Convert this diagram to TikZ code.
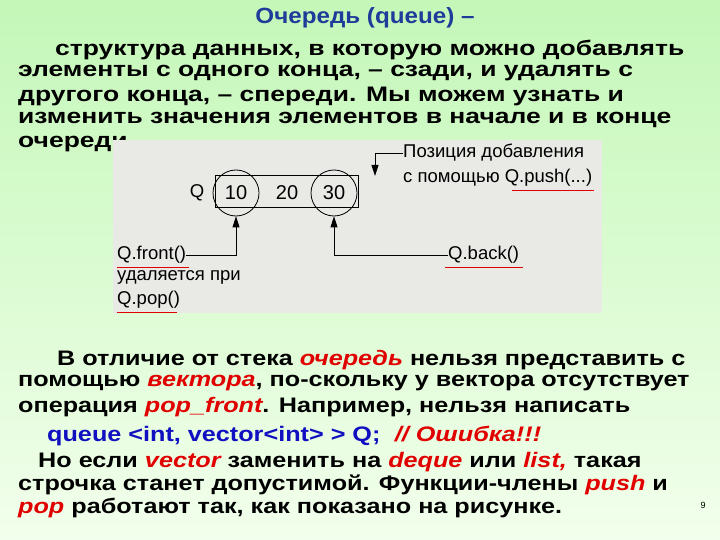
\documentclass[tikz,border=0pt]{standalone}
\usepackage{fontspec}
\usepackage{graphicx}
\setmainfont{Liberation Sans}
\usetikzlibrary{arrows.meta}
\definecolor{bgtop}{HTML}{C4F7B8}
\definecolor{bgbot}{HTML}{F2FFEC}
\definecolor{ttl}{HTML}{1E3C9A}
\definecolor{rd}{HTML}{E00000}
\definecolor{bl}{HTML}{1010C0}
\definecolor{scan}{HTML}{E9E9E6}
\newcommand{\rr}[1]{\textcolor{rd}{\itshape #1}}
\newcommand{\wt}[1]{\scalebox{1.26}[1]{#1}}
\newcommand{\wb}[1]{\scalebox{1.2}[1]{#1}}
\tikzset{
  txt/.style={anchor=west,inner sep=0pt,font=\bfseries\fontsize{21}{22}\selectfont},
  txtb/.style={anchor=west,inner sep=0pt,font=\bfseries\fontsize{21}{22}\selectfont},
  lab/.style={inner sep=0pt,font=\fontsize{18.5}{20}\selectfont},
  num/.style={inner sep=0pt,font=\fontsize{20}{22}\selectfont},
  ul/.style={draw=rd,line width=1.3pt},
  con/.style={draw,line width=0.9pt},
  arr/.style={con,-{Triangle[length=11pt,width=7pt]}}
}
\begin{document}
\begin{tikzpicture}[x=1pt,y=-1pt]
\useasboundingbox (0,0) rectangle (720,540);
\shade[top color=bgtop,bottom color=bgbot] (0,0) rectangle (720,540);
\node[inner sep=0pt,text=ttl,font=\bfseries\fontsize{22}{24}\selectfont] (title) at (365,18) {\scalebox{1.1}[1]{Очередь (queue) –}};
\node[txt] (l1) at (55,50) {\wt{структура данных, в которую можно добавлять}};
\node[txt] (l2) at (18,73) {\wt{элементы с одного конца, – сзади, и удалять с}};
\node[txt] (l3) at (18,96) {\wt{другого конца, – спереди. Мы можем узнать и}};
\node[txt] (l4) at (18,120) {\wt{изменить значения элементов в начале и в конце}};
\node[txt] (l5) at (18,144) {\wt{очереди.}};
% scanned figure
\fill[scan] (113,140) rectangle (602,313);
\node[lab] (q) at (197,193) {Q};
\draw[con] (215,175) rectangle (358,207);
\node[num,draw,circle,minimum size=46pt,line width=0.8pt] (c10) at (236,193) {10};
\node[num] (c20) at (287,193) {20};
\node[num,draw,circle,minimum size=46pt,line width=0.8pt] (c30) at (334,193) {30};
\node[lab,anchor=west] (front) at (117,255) {Q.front()};
\node[lab,anchor=west] (del) at (117,277) {удаляется при};
\node[lab,anchor=west] (pop) at (117,300) {Q.pop()};
\node[lab,anchor=west] (back) at (448,255) {Q.back()};
\node[lab,anchor=west] (pos) at (403,153) {Позиция добавления};
\node[lab,anchor=west] (push) at (403,178) {с помощью Q.push(...)};
\draw[arr] (front.east) -| (c10.south);
\draw[arr] (back.west) -| (c30.south);
\coordinate (pk) at (375,153);
\coordinate (pt) at (375,176);
\draw[con] (pos.west) -- (pk);
\draw[arr] (pk) -- (pt);
\draw[ul] (front.south west)++(0,4) -- ++(72,0);
\draw[ul] (pop.south west)++(0,4) -- ++(60,0);
\draw[ul] (back.south west)++(-3,4) -- ++(78,0);
\draw[ul] (push.south east)++(-80,4) -- ++(82,0);
% bottom text
\node[txtb] (b1) at (57,360) {\wb{В отличие от стека \rr{очередь} нельзя представить с}};
\node[txtb] (b2) at (18,383) {\wb{помощью \rr{вектора}, по-скольку у вектора отсутствует}};
\node[txtb] (b3) at (18,407) {\wb{операция \rr{pop\_front}. Например, нельзя написать}};
\node[txtb] (b4) at (47,436) {\wb{\textcolor{bl}{queue <int, vector<int> > Q;}\hspace{12pt}\rr{// Ошибка!!!}}};
\node[txtb] (b5) at (38,462) {\wb{Но если \rr{vector} заменить на \rr{deque} или \rr{list,} такая}};
\node[txtb] (b6) at (18,485) {\wb{строчка станет допустимой. Функции-члены \rr{push} и}};
\node[txtb] (b7) at (18,508) {\wb{\rr{pop} работают так, как показано на рисунке.}};
\node[inner sep=0pt,font=\fontsize{9}{10}\selectfont] (pg) at (703,505) {9};
\end{tikzpicture}
\end{document}
